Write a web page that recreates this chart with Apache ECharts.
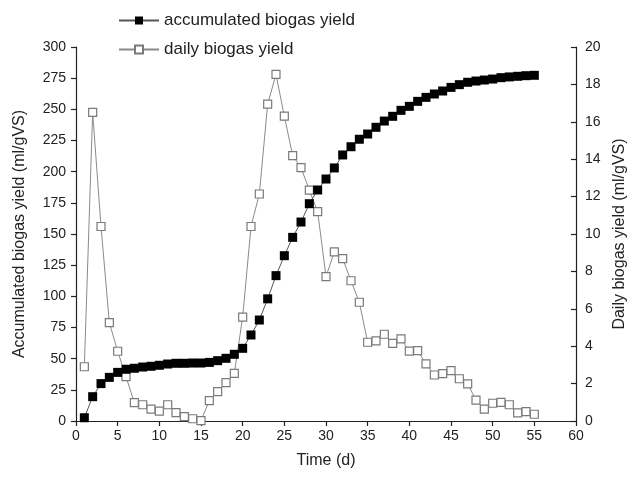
<!DOCTYPE html>
<html>
<head>
<meta charset="utf-8">
<script src="https://cdn.jsdelivr.net/npm/echarts@6/dist/echarts.min.js"></script>
<style>
  html, body { margin: 0; padding: 0; background: #fff; }
  #biogasChart { width: 629px; height: 480px; }
</style>
</head>
<body>
<div id="biogasChart"></div>
<script>
// days 1..55
const days = [];
for (let d = 1; d <= 55; d++) days.push(d);

// accumulated biogas yield (ml/gVS), left axis
const accumulated = [
  2.6, 19.5, 30, 35, 39, 41.5, 42.3, 43.3, 43.9, 44.7,
  45.7, 46.3, 46.3, 46.5, 46.5, 47, 48.4, 50.3, 53.5, 58.3,
  69, 81, 98, 116.6, 132.6, 147.3, 159.6, 174.3, 185.3, 194.1,
  203, 213.4, 220, 226, 230.2, 235.6, 240.6, 244.4, 249.2, 252.4,
  256.4, 259.6, 262.3, 264.7, 267.6, 269.8, 271.7, 272.7, 273.5, 274.3,
  275.4, 276, 276.5, 277, 277.3
];

// daily biogas yield (ml/gVS), right axis
const daily = [
  2.9, 16.5, 10.4, 5.26, 3.73, 2.37, 0.98, 0.87, 0.64, 0.53,
  0.87, 0.45, 0.23, 0.12, 0.02, 1.09, 1.57, 2.05, 2.55, 5.55,
  10.4, 12.14, 16.95, 18.54, 16.3, 14.19, 13.55, 12.35, 11.2, 7.72,
  9.04, 8.68, 7.5, 6.35, 4.21, 4.28, 4.64, 4.15, 4.39, 3.74,
  3.76, 3.05, 2.46, 2.53, 2.69, 2.26, 1.98, 1.12, 0.64, 0.95,
  1.0, 0.87, 0.43, 0.5, 0.36
];

const chart = echarts.init(document.getElementById("biogasChart"));
const font = "Liberation Sans";

const axisLine = { show: true, lineStyle: { color: "#222", width: 1.2 } };
const axisTick = { show: true, length: 5, lineStyle: { color: "#222", width: 1.2 } };
const axisLabel = { color: "#222", fontFamily: font, fontSize: 14 };
const nameStyle = { color: "#222", fontFamily: font, fontSize: 16 };

const option = {
  animation: false,
  backgroundColor: "#fff",
  textStyle: { fontFamily: font },
  grid: { left: 76, right: 53, top: 47, bottom: 59, outerBoundsMode: "none", containLabel: false },
  legend: {
    orient: "vertical",
    left: 113,
    top: 7,
    itemWidth: 40,
    itemHeight: 10,
    itemGap: 12,
    textStyle: { color: "#222", fontFamily: font, fontSize: 17 },
    data: ["accumulated biogas yield", "daily biogas yield"]
  },
  xAxis: {
    type: "value",
    min: 0,
    max: 60,
    interval: 5,
    name: "Time (d)",
    nameLocation: "middle",
    nameGap: 32,
    nameTextStyle: nameStyle,
    axisLine,
    axisTick,
    axisLabel: { ...axisLabel, margin: 8 },
    splitLine: { show: false }
  },
  yAxis: [
    {
      type: "value",
      min: 0,
      max: 300,
      interval: 25,
      name: "Accumulated biogas yield (ml/gVS)",
      nameLocation: "middle",
      nameGap: 48,
      nameTextStyle: nameStyle,
      axisLine,
      axisTick,
      axisLabel: { ...axisLabel, margin: 10 },
      splitLine: { show: false }
    },
    {
      type: "value",
      min: 0,
      max: 20,
      interval: 2,
      position: "right",
      name: "Daily biogas yield (ml/gVS)",
      nameLocation: "middle",
      nameGap: 35,
      nameRotate: 90,
      nameTextStyle: nameStyle,
      axisLine,
      axisTick: { show: true, inside: true, length: 5, lineStyle: { color: "#222", width: 1.2 } },
      axisLabel: { ...axisLabel, margin: 9 },
      splitLine: { show: false }
    }
  ],
  series: [
    {
      name: "daily biogas yield",
      type: "line",
      yAxisIndex: 1,
      data: days.map((d, i) => [d, daily[i]]),
      symbol: "rect",
      symbolSize: 8,
      showAllSymbol: true,
      lineStyle: { color: "#8a8a8a", width: 1 },
      itemStyle: { color: "#fff", borderColor: "#7a7a7a", borderWidth: 1.2 },
      z: 2
    },
    {
      name: "accumulated biogas yield",
      type: "line",
      yAxisIndex: 0,
      data: days.map((d, i) => [d, accumulated[i]]),
      symbol: "rect",
      symbolSize: 9,
      showAllSymbol: true,
      lineStyle: { color: "#555", width: 1 },
      itemStyle: { color: "#000", borderColor: "#000", borderWidth: 0 },
      z: 3
    }
  ]
};

chart.setOption(option);
</script>
</body>
</html>
